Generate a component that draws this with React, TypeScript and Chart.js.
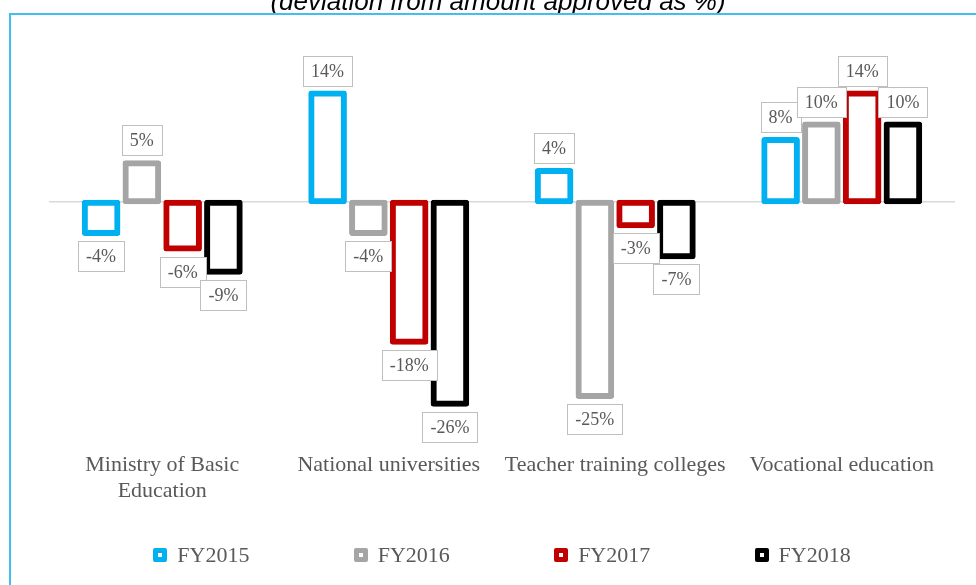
import React, { useEffect, useRef } from "react";
import { Chart, registerables } from "chart.js";

Chart.register(...registerables);

// ---- data ----
const categories: (string | string[])[] = [
  ["Ministry of Basic", "Education"],
  "National universities",
  "Teacher training colleges",
  "Vocational education",
];
const seriesNames = ["FY2015", "FY2016", "FY2017", "FY2018"];
const fy2015 = [-4, 14, 4, 8];
const fy2016 = [5, -4, -25, 10];
const fy2017 = [-6, -18, -3, 14];
const fy2018 = [-9, -26, -7, 10];
const seriesValues = [fy2015, fy2016, fy2017, fy2018];
const seriesColors = ["#00b0f0", "#a5a5a5", "#c00000", "#000000"];
const titleText = "(deviation from amount approved as %)";

const SERIF = '"Liberation Serif", "Times New Roman", serif';
const SANS = '"Liberation Sans", Arial, sans-serif';

const boxLabelPlugin = {
  id: "boxLabels",
  afterDatasetsDraw(chart: any) {
    const ctx = chart.ctx;
    ctx.save();
    ctx.font = `18px ${SERIF}`;
    ctx.textAlign = "center";
    ctx.textBaseline = "middle";
    chart.data.datasets.forEach((ds: any, di: number) => {
      const meta = chart.getDatasetMeta(di);
      meta.data.forEach((el: any, i: number) => {
        const v = ds.data[i];
        const text = `${v}%`;
        const tw = ctx.measureText(text).width;
        const w = Math.round(tw + 16);
        const h = 30;
        const x = Math.round(el.x - w / 2) + 0.5;
        const top = v >= 0 ? el.y - 8 - h : el.y + 8;
        const y = Math.round(top) + 0.5;
        ctx.fillStyle = "#ffffff";
        ctx.fillRect(x, y, w, h);
        ctx.strokeStyle = "#bfbfbf";
        ctx.lineWidth = 1;
        ctx.strokeRect(x, y, w, h);
        ctx.fillStyle = "#595959";
        ctx.fillText(text, el.x, y + h / 2 + 1);
      });
    });
    ctx.restore();
  },
};

const bottomLegendPlugin = {
  id: "bottomLegend",
  afterDraw(chart: any) {
    const ctx = chart.ctx;
    const area = chart.chartArea;
    const center = (area.left + area.right) / 2;
    const cy = chart.height - 30;
    const stride = 200.4;
    const marker = 14;
    const textOffset = 24;
    ctx.save();
    ctx.font = `22px ${SERIF}`;
    ctx.textAlign = "left";
    ctx.textBaseline = "middle";
    const items = chart.data.datasets.map((ds: any) => ({
      label: ds.label as string,
      color: ds.borderColor as string,
      tw: ctx.measureText(ds.label).width as number,
    }));
    const n = items.length;
    const lastW = textOffset + items[n - 1].tw;
    const total = (n - 1) * stride + lastW;
    let x = center - total / 2;
    items.forEach((it: any) => {
      const mx = Math.round(x);
      const my = Math.round(cy - marker / 2);
      ctx.fillStyle = it.color;
      ctx.beginPath();
      const r = 2;
      ctx.moveTo(mx + r, my);
      ctx.lineTo(mx + marker - r, my);
      ctx.quadraticCurveTo(mx + marker, my, mx + marker, my + r);
      ctx.lineTo(mx + marker, my + marker - r);
      ctx.quadraticCurveTo(mx + marker, my + marker, mx + marker - r, my + marker);
      ctx.lineTo(mx + r, my + marker);
      ctx.quadraticCurveTo(mx, my + marker, mx, my + marker - r);
      ctx.lineTo(mx, my + r);
      ctx.quadraticCurveTo(mx, my, mx + r, my);
      ctx.closePath();
      ctx.fill();
      ctx.fillStyle = "#ffffff";
      ctx.fillRect(mx + 5, my + 5, marker - 10, marker - 10);
      ctx.fillStyle = "#595959";
      ctx.fillText(it.label, x + textOffset, cy + 1);
      x += stride;
    });
    ctx.restore();
  },
};

export default function App() {
  const canvasRef = useRef<HTMLCanvasElement | null>(null);

  useEffect(() => {
    if (!canvasRef.current) return;
    const chart = new Chart(canvasRef.current, {
      type: "bar",
      data: {
        labels: categories,
        datasets: seriesNames.map((name, i) => ({
          label: name,
          data: seriesValues[i],
          backgroundColor: "#ffffff",
          borderColor: seriesColors[i],
          borderWidth: 6,
          inflateAmount: 3,
          borderSkipped: false,
          borderRadius: { topLeft: 3, topRight: 3, bottomLeft: 3, bottomRight: 3 },
          barPercentage: 0.8,
          categoryPercentage: 0.72,
        })) as any,
      },
      options: {
        animation: false,
        responsive: false,
        devicePixelRatio: 1,
        layout: { padding: { left: 38, right: 38, top: 63, bottom: 63.5 } },
        plugins: {
          legend: { display: false },
          title: { display: false },
          tooltip: { enabled: false },
        },
        scales: {
          x: {
            grid: { display: false, drawTicks: false },
            border: { display: false },
            ticks: {
              color: "#595959",
              padding: 17,
              font: { family: SERIF, size: 22 },
              maxRotation: 0,
              autoSkip: false,
            },
          },
          y: {
            min: -30,
            max: 16,
            ticks: { display: false },
            grid: { drawTicks: false, color: "#d9d9d9", lineWidth: 1.5 },
            border: { display: false },
            afterBuildTicks: (scale: any) => {
              scale.ticks = [{ value: 0 }];
            },
          },
        },
      } as any,
      plugins: [boxLabelPlugin, bottomLegendPlugin],
    });
    return () => chart.destroy();
  }, []);

  return (
    <div>
      <div
        style={{
          position: "fixed",
          left: 0,
          top: -12.5,
          width: 996,
          textAlign: "center",
          fontFamily: SANS,
          fontStyle: "italic",
          fontSize: 26,
          lineHeight: "26px",
          color: "#000000",
          whiteSpace: "pre",
        }}
      >
        {titleText}
      </div>
      <div
        style={{
          position: "fixed",
          left: 9,
          top: 13,
          width: 1000,
          height: 600,
          border: "2px solid #41bff0",
          background: "#ffffff",
          overflow: "hidden",
        }}
      >
        <canvas ref={canvasRef} width={982} height={570} style={{ display: "block" }} />
      </div>
    </div>
  );
}
